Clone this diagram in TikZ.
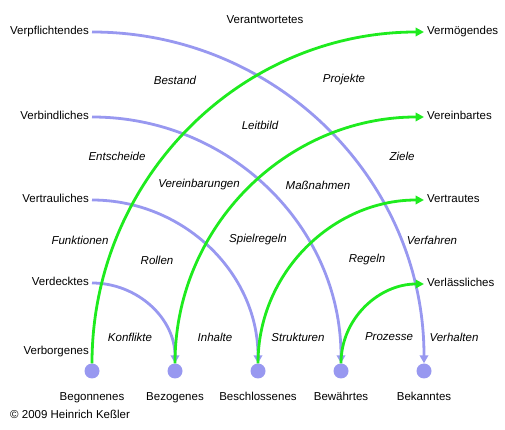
\documentclass[tikz,border=0pt]{standalone}
\usepackage{fontspec}
\setmainfont{Liberation Sans}
\usepackage{tikz}
\usetikzlibrary{arrows.meta,positioning}
\usepackage{xcolor}
\definecolor{arcblue}{RGB}{152,152,240}
\definecolor{arcgreen}{RGB}{30,235,30}

\begin{document}
\begin{tikzpicture}[x=1pt,y=1pt,
  lab/.style={font=\fontsize{11.5}{13}\selectfont,inner sep=3pt,
    text height=8.5pt,text depth=2.5pt},
  cue/.style={font=\fontsize{11.5}{13}\selectfont\itshape,inner sep=1pt},
  dot/.style={circle,fill=arcblue,minimum size=15pt,inner sep=0pt},
  downarc/.style={arcblue,line width=2.8pt,-{Triangle[length=8pt,width=8.5pt]}},
  uparc/.style={arcgreen,line width=2.8pt,-{Triangle[length=8.5pt,width=8.5pt]}}]
  \useasboundingbox (0,0) rectangle (505,430);
  \foreach \n/\x/\t in {beg/92/Begonnenes, bez/175/Bezogenes,
      bes/258/Beschlossenes, bew/341/Bewährtes, bek/424/Bekanntes}{
    \node[dot] (d\n) at (\x,59) {};
    \node[lab] (t\n) at (\x,32) {\t};
  }
  \foreach \n/\y/\t in {pfl/398/Verpflichtendes, bin/313/Verbindliches,
      tra/230/Vertrauliches, dec/147/Verdecktes, bor/78/Verborgenes}
    \node[lab,anchor=east] (l\n) at (92,\y) {\t};
  \foreach \n/\y/\t in {mog/398/Vermögendes, ein/313/Vereinbartes,
      tru/230/Vertrautes, las/146/Verlässliches}
    \node[lab,anchor=west] (r\n) at (424,\y) {\t};
  \node[lab] (top) at (265,409) {Verantwortetes};
  \foreach \a/\b in {pfl/bek, bin/bew, tra/bes, dec/bez}
    \draw[downarc] (l\a.east) to[out=0,in=90] (d\b.north);
  \foreach \a/\b in {beg/mog, bez/ein, bes/tru, bew/las}
    \draw[uparc] (d\a.north) to[out=90,in=180] (r\b.west);
  \foreach \n/\x/\y/\t in {c1/175/350/Bestand, c2/344/350/Projekte,
      c3/260/305/Leitbild, c4/117/274/Entscheide, c5/402/274/Ziele,
      c6/199/245/Vereinbarungen, c7/318/245/Maßnahmen,
      c8/80/190/Funktionen, c9/258/190/Spielregeln, c10/432/190/Verfahren,
      c11/157/170/Rollen, c12/367/170/Regeln,
      c13/130/93/Konflikte, c14/215/93/Inhalte, c15/298/93/Strukturen,
      c16/389/93/Prozesse, c17/454/93/Verhalten}
    \node[cue] (\n) at (\x,\y) {\t};
  \node[lab,anchor=west,inner sep=0pt] (copy) at (10,14) {© 2009 Heinrich Keßler};
\end{tikzpicture}
\end{document}
